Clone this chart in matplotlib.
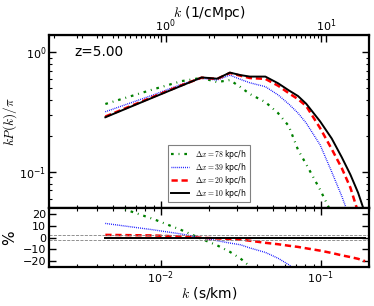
import numpy as np
import matplotlib
matplotlib.use("Agg")
import matplotlib.pyplot as plt
from matplotlib.ticker import NullFormatter

plt.rcParams['mathtext.fontset'] = 'cm'
plt.rcParams['font.family'] = ['DejaVu Sans']

# k in s/km
k = [0.0045, 0.009, 0.0135, 0.018, 0.0225, 0.027, 0.0315, 0.036, 0.045, 0.054,
     0.063, 0.072, 0.081, 0.099, 0.117, 0.135, 0.153, 0.171, 0.189]

# kP(k)/pi for the four resolutions
p78 = [0.369, 0.49, 0.573, 0.61, 0.562, 0.585, 0.51, 0.447, 0.383, 0.31,
       0.242, 0.153, 0.116, 0.071, 0.045, 0.03, 0.02, 0.015, 0.01]
p39 = [0.318, 0.44, 0.54, 0.605, 0.585, 0.643, 0.592, 0.555, 0.515, 0.44,
       0.369, 0.31, 0.256, 0.168, 0.10, 0.063, 0.04, 0.028, 0.02]
p20 = [0.29, 0.425, 0.53, 0.612, 0.598, 0.67, 0.635, 0.608, 0.598, 0.525,
       0.455, 0.405, 0.355, 0.232, 0.155, 0.108, 0.074, 0.046, 0.035]
p10 = [0.286, 0.42, 0.525, 0.615, 0.600, 0.675, 0.643, 0.625, 0.625, 0.55,
       0.48, 0.43, 0.371, 0.264, 0.19, 0.133, 0.095, 0.067, 0.045]

# residuals (%) relative to the highest resolution
r78 = [30, 16, 6.5, -1, -6.5, -12, -17.8, -24.5, -33, -40,
       -45, -50, -55, -60, -65, -70, -75, -80, -85]
r39 = [12.3, 6.8, 3.2, 0, -2.5, -4.5, -6, -8.7, -12.5, -17.5,
       -23, -29, -35, -42, -50, -57, -63, -70, -75]
r20 = [2.5, 2.0, 1.0, 0, -0.5, -1.0, -1.5, -2.5, -4.3, -5.5,
       -6.8, -7.8, -9, -11, -13, -15, -16.5, -18, -20]
r10 = [0] * len(k)

labels = [r'$\Delta x = 78$ kpc/h', r'$\Delta x = 39$ kpc/h',
          r'$\Delta x = 20$ kpc/h', r'$\Delta x = 10$ kpc/h']
redshift_text = 'z=5.00'
top_ticks = [1, 10]
fac = 93.1  # s/km -> 1/cMpc

W, H = 374, 306
fig = plt.figure(figsize=(W / 100, H / 100), dpi=100)
L, R = 49 / W, 369 / W
ax = fig.add_axes([L, 1 - 208 / H, R - L, (208 - 35) / H])
axr = fig.add_axes([L, 1 - 267 / H, R - L, (267 - 208) / H], sharex=ax)

styles = [dict(color='green', ls=(0, (1.2, 2.2, 0.4, 2.2)), lw=1.6),
          dict(color='blue', ls=(0, (0.6, 0.8)), lw=1.0),
          dict(color='red', ls=(0, (2.5, 1.5)), lw=1.8),
          dict(color='black', ls='-', lw=1.4)]

for p, st, lab in zip([p78, p39, p20, p10], styles, labels):
    ax.plot(k, p, label=lab, **st)
for r, st in zip([r78, r39, r20, r10], styles):
    axr.plot(k, r, **st)

axr.axhline(2, color='gray', ls='--', lw=0.6)
axr.axhline(-2, color='gray', ls='--', lw=0.6)

ax.set_xscale('log')
ax.set_yscale('log')
ax.set_xlim(0.002, 0.2)
ax.set_ylim(0.05, 1.39)
axr.set_ylim(-25, 25.5)
axr.set_yticks([-20, -10, 0, 10, 20])

for a in (ax, axr):
    a.tick_params(which='both', direction='in', top=True, right=True, labelsize=8)
    a.tick_params(which='major', length=5, width=1, pad=2)
    a.tick_params(which='minor', length=2.5, width=0.8)
    for s in a.spines.values():
        s.set_linewidth(1.6)
ax.tick_params(labelbottom=False)
axr.tick_params(axis='y', which='minor', left=False, right=False)

sec = ax.secondary_xaxis('top', functions=(lambda x: x * fac, lambda q: q / fac))
sec.set_xticks(top_ticks)
sec.xaxis.set_minor_formatter(NullFormatter())
sec.tick_params(which='both', direction='in', labelsize=8, pad=1)
sec.tick_params(which='major', length=5, width=1)
sec.tick_params(which='minor', length=2.5, width=0.8)
sec.set_xlabel(r'$k$ (1/cMpc)', fontsize=10)
sec.xaxis.set_label_coords(0.5, (208 - 4) / 173, transform=ax.transAxes)
sec.xaxis.label.set_va('top')

ax.set_ylabel(r'$kP(k)/\pi$', fontsize=9.5)
ax.yaxis.set_label_coords(-0.094, 0.5)
axr.set_ylabel('%', fontsize=11)
axr.yaxis.set_label_coords(-0.1, 0.5)
axr.set_xlabel(r'$k$ (s/km)', fontsize=10)
axr.xaxis.set_label_coords(0.5, -0.3)

ax.text(0.08, 0.9, redshift_text, transform=ax.transAxes, fontsize=9.8,
        va='center', ha='left')

leg = ax.legend(loc='lower center', bbox_to_anchor=(0.5, 0.01), fontsize=5.5,
                fancybox=False, edgecolor='gray', framealpha=1,
                handlelength=2.4, handleheight=0.5, borderpad=0.35,
                labelspacing=0.0)
leg.get_frame().set_linewidth(0.8)

fig.savefig('out.png', dpi=100)
